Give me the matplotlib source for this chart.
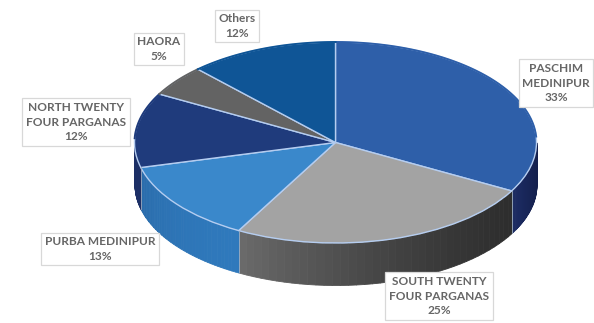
import numpy as np
import matplotlib
matplotlib.use('Agg')
import matplotlib.pyplot as plt
from matplotlib.colors import to_rgb

# District shares, clockwise from the top of the pie
districts = ['PASCHIM\nMEDINIPUR', 'SOUTH TWENTY\nFOUR PARGANAS', 'PURBA MEDINIPUR',
             'NORTH TWENTY\nFOUR PARGANAS', 'HAORA', 'Others']
shares = [33, 25, 13, 12, 5, 12]

top_colors = ['#2e5fa9', '#a3a3a3', '#3a88cb', '#1f3b7c', '#636363', '#0f5596']
# wall colours at the start and end of each slice
wall_start = ['#141f4c', '#2e2e2e', '#2f79bc', '#1c2f66', '#444444', '#0c4276']
wall_end = ['#1c2c64', '#6c6c6c', '#2a6cab', '#1c2f66', '#444444', '#0c4276']

W, H = 594, 323
cx, cy, rx, ry = 335.5, 142.5, 201, 100.5
depth = 42 / ry

plt.rcParams['font.family'] = ['Lato', 'DejaVu Sans']
fig = plt.figure(figsize=[W / 100, H / 100], dpi=100)
ax = fig.add_axes([0, 0, 1, 1])

# side wall first, built from thin strips so the shading can run along it
edges = np.concatenate([[0], np.cumsum(shares)]) / sum(shares) * 2 * np.pi
for i in range(len(shares)):
    a0 = edges[i]
    a1 = edges[i + 1]
    if a1 <= np.pi / 2 or a0 >= 3 * np.pi / 2:
        continue
    lo = max(a0, np.pi / 2)
    hi = min(a1, 3 * np.pi / 2)
    steps = np.linspace(lo, hi, 40)
    c0 = np.array(to_rgb(wall_start[i]))
    c1 = np.array(to_rgb(wall_end[i]))
    for j in range(len(steps) - 1):
        t = ((steps[j] - lo) / (hi - lo)) ** 1.5
        seg = np.linspace(steps[j], steps[j + 1], 4)
        col = c0 + (c1 - c0) * t
        ax.fill_between(np.sin(seg), np.cos(seg), np.cos(seg) - depth,
                        facecolor=col, edgecolor=col, lw=0.6)
    x_end = np.sin(hi)
    if a1 < 3 * np.pi / 2:
        ax.plot([x_end, x_end], [np.cos(hi), np.cos(hi) - depth], color='#9fb0c4', lw=0.6)

# top face
wedges, _ = ax.pie(shares, colors=top_colors, startangle=90, counterclock=False, radius=1,
                   wedgeprops=dict(edgecolor='#b5cdf0', linewidth=1.0))
ax.set_aspect('auto')
ax.set_xlim(-cx / rx, (W - cx) / rx)
ax.set_ylim(-(H - cy) / ry, cy / ry)

# the pale outline only shows along the front rim, so cover it at the back
for i in range(len(shares)):
    back = np.linspace(edges[i], edges[i + 1], 60)
    back = back[(back < np.pi / 2 - 0.03) | (back > 3 * np.pi / 2 + 0.03)]
    if len(back) > 1:
        ax.plot(np.sin(back), np.cos(back), color=top_colors[i], lw=1.4, zorder=5)

# label centres in pixels from the top left corner
label_x = [556, 439, 100, 76, 159, 237]
label_y = [83, 296, 249, 122, 49, 26]
for name, share, lx, ly in zip(districts, shares, label_x, label_y):
    ax.text((lx - cx) / rx, (cy - ly) / ry, f'{name}\n{share}%', ha='center', va='center',
            fontsize=8.6, fontweight='bold', color='#666666', linespacing=1.4,
            bbox=dict(boxstyle='square,pad=0.3', fc='white', ec='#d8d8d8', lw=0.9), zorder=10)

fig.savefig('out.png', dpi=100)
